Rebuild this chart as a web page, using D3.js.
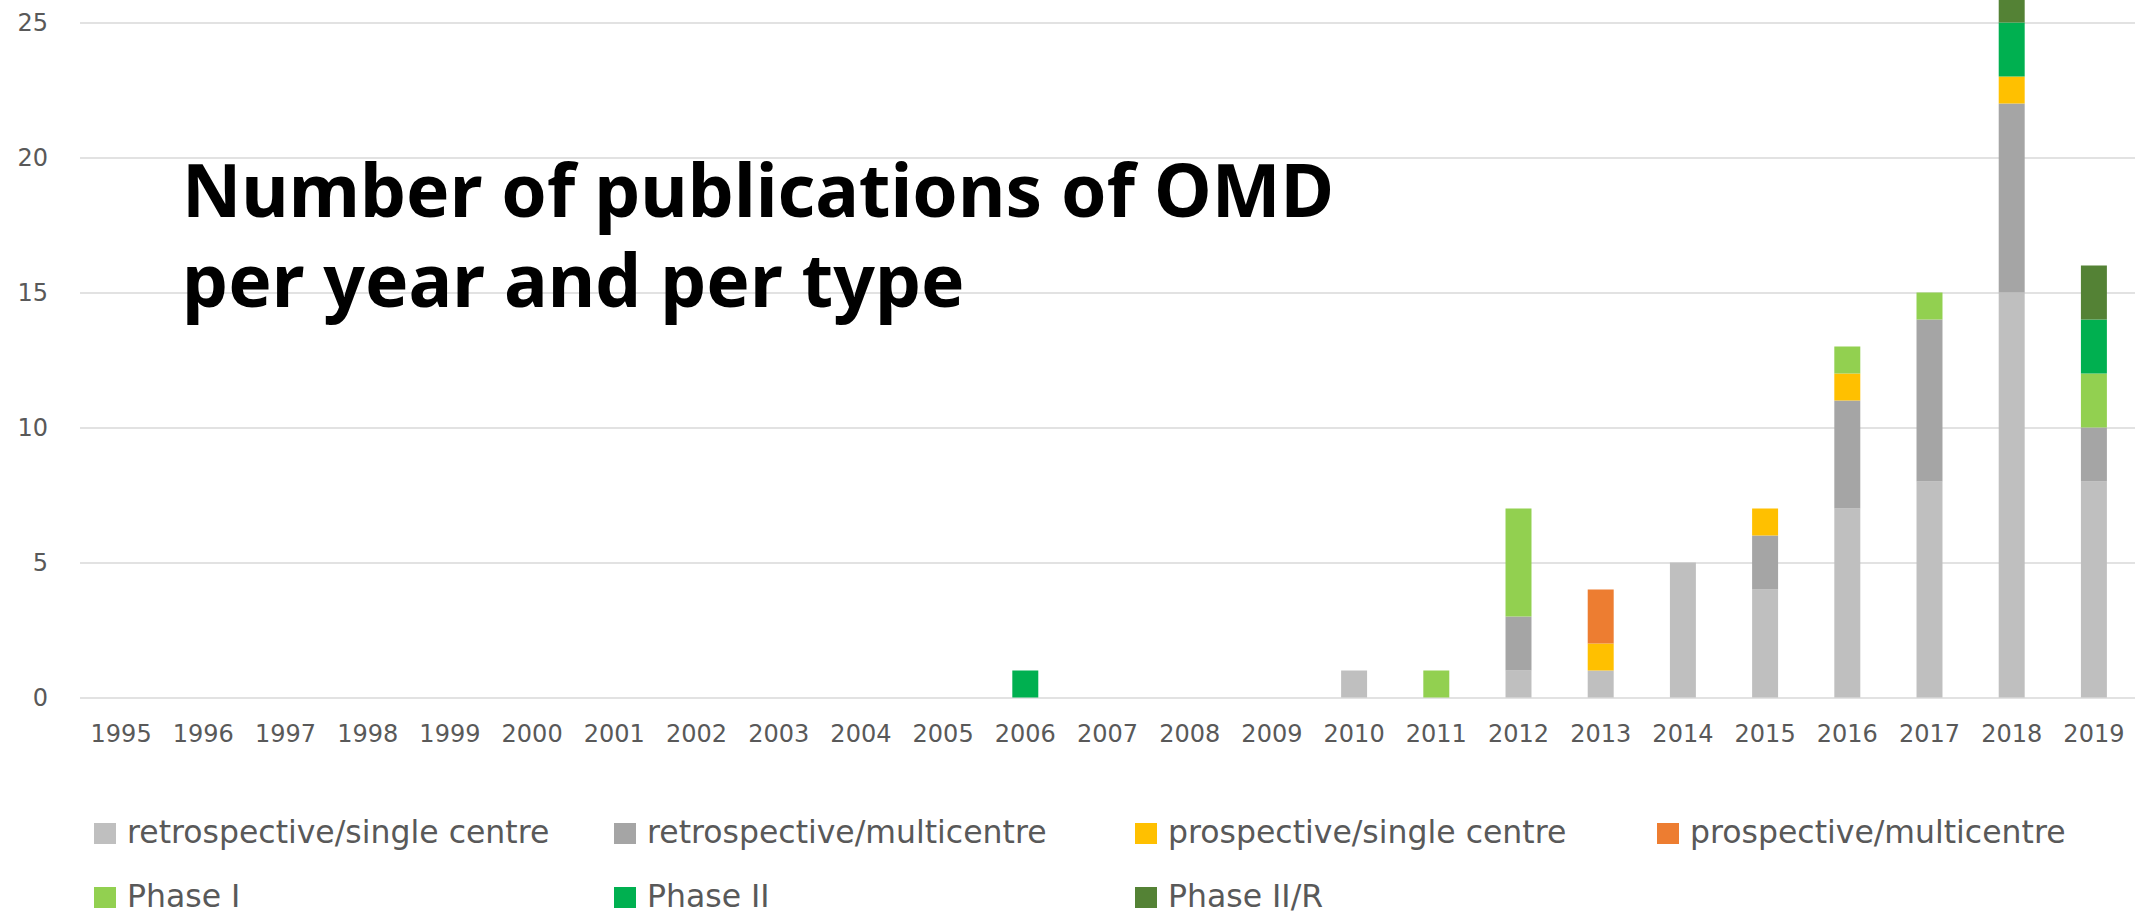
<!DOCTYPE html>
<html>
<head>
<meta charset="utf-8">
<script src="https://cdn.jsdelivr.net/npm/d3@7"></script>
<style>
  html, body { margin: 0; padding: 0; background: #ffffff; }
  svg { display: block; }
</style>
</head>
<body>
<svg id="chart" width="2149" height="915"></svg>
<script>
// ---- data ----
const years = ["1995","1996","1997","1998","1999","2000","2001","2002","2003","2004","2005","2006","2007","2008","2009","2010","2011","2012","2013","2014","2015","2016","2017","2018","2019"];
const seriesNames = ["retrospective/single centre","retrospective/multicentre","prospective/single centre","prospective/multicentre","Phase I","Phase II","Phase II/R"];
const retroSingle = [0,0,0,0,0,0,0,0,0,0,0,0,0,0,0,1,0,1,1,5,4,7,8,15,8];
const retroMulti  = [0,0,0,0,0,0,0,0,0,0,0,0,0,0,0,0,0,2,0,0,2,4,6,7,2];
const prospSingle = [0,0,0,0,0,0,0,0,0,0,0,0,0,0,0,0,0,0,1,0,1,1,0,1,0];
const prospMulti  = [0,0,0,0,0,0,0,0,0,0,0,0,0,0,0,0,0,0,2,0,0,0,0,0,0];
const phase1      = [0,0,0,0,0,0,0,0,0,0,0,0,0,0,0,0,1,4,0,0,0,1,1,0,2];
const phase2      = [0,0,0,0,0,0,0,0,0,0,0,1,0,0,0,0,0,0,0,0,0,0,0,2,2];
const phase2R     = [0,0,0,0,0,0,0,0,0,0,0,0,0,0,0,0,0,0,0,0,0,0,0,1,2];
const yTicks = [0,5,10,15,20,25];
const colors = ["#BFBFBF","#A5A5A5","#FFC000","#ED7D31","#92D050","#00B050","#548235"];
const titleLines = ["Number of publications of OMD","per year and per type"];

// ---- build table ----
const seriesValues = [retroSingle, retroMulti, prospSingle, prospMulti, phase1, phase2, phase2R];
const table = years.map((y, i) => {
  const row = { year: y };
  seriesNames.forEach((n, k) => { row[n] = seriesValues[k][i]; });
  return row;
});
const stacked = d3.stack().keys(seriesNames)(table);

// ---- layout ----
const svg = d3.select("#chart");
const plotLeft = 80, plotRight = 2135, plotTop = 22.5, plotBottom = 697.5;

const x = d3.scaleBand().domain(years).range([plotLeft, plotRight])
  .paddingInner(0.684).paddingOuter(0.342);
const y = d3.scaleLinear().domain([0, 25]).range([plotBottom, plotTop]);
const color = d3.scaleOrdinal().domain(seriesNames).range(colors);

// gridlines + y labels
const yAxis = d3.axisLeft(y).tickValues(yTicks).tickSize(-(plotRight - plotLeft)).tickPadding(32);
const gy = svg.append("g").attr("transform", `translate(${plotLeft},0)`).call(yAxis);
gy.select(".domain").remove();
gy.selectAll(".tick line").attr("stroke", "#D9D9D9").attr("stroke-width", 1.6);
gy.selectAll(".tick text")
  .attr("fill", "#595959")
  .style("font-family", "'DejaVu Sans', Verdana, sans-serif")
  .style("font-size", "24px");

// bars
svg.append("g")
  .selectAll("g")
  .data(stacked)
  .join("g")
  .attr("fill", d => color(d.key))
  .selectAll("rect")
  .data(d => d.filter(s => s[1] - s[0] > 0))
  .join("rect")
  .attr("x", d => x(d.data.year))
  .attr("y", d => y(d[1]))
  .attr("width", x.bandwidth())
  .attr("height", d => y(d[0]) - y(d[1]));

// x axis labels
const xAxis = d3.axisBottom(x).tickSize(0).tickPadding(27);
const gx = svg.append("g").attr("transform", `translate(0,${plotBottom})`).call(xAxis);
gx.select(".domain").remove();
gx.selectAll(".tick text")
  .attr("fill", "#595959")
  .style("font-family", "'DejaVu Sans', Verdana, sans-serif")
  .style("font-size", "24px");

// title
const titleY = [217, 307];
titleLines.forEach((t, i) => {
  svg.append("text")
    .attr("x", 182)
    .attr("y", titleY[i])
    .attr("fill", "#000000")
    .style("font-family", "'Noto Sans', 'Open Sans', sans-serif")
    .style("font-weight", "bold")
    .style("font-size", "73px")
    .text(t);
});

// legend
const legendCols = [94, 614, 1135, 1657];
const legendRows = [843, 907];
const legend = svg.append("g");
seriesNames.forEach((n, i) => {
  const col = i < 4 ? i : i - 4;
  const row = i < 4 ? 0 : 1;
  const lx = legendCols[col], ly = legendRows[row];
  legend.append("rect")
    .attr("x", lx).attr("y", ly - 20)
    .attr("width", 22).attr("height", 21)
    .attr("fill", color(n));
  legend.append("text")
    .attr("x", lx + 33).attr("y", ly)
    .attr("fill", "#595959")
    .style("font-family", "'DejaVu Sans', Verdana, sans-serif")
    .style("font-size", "31.5px")
    .text(n);
});
</script>
</body>
</html>
